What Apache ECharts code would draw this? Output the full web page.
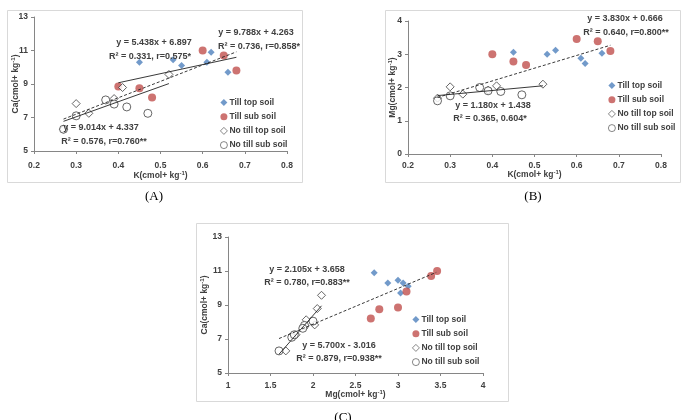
<!DOCTYPE html>
<html>
<head>
<meta charset="utf-8">
<script src="https://cdn.jsdelivr.net/npm/echarts@6/dist/echarts.min.js"></script>
<style>html,body{margin:0;padding:0;background:#fff}#c{width:685px;height:420px}</style>
</head>
<body>
<div id="c"></div>
<script>
// ---- data ----
var seriesNames = ['Till top soil', 'Till sub soil', 'No till top soil', 'No till sub soil'];

var tillTopK  = [0.45, 0.53, 0.55, 0.61, 0.62, 0.66];
var tillTopCa = [10.3, 10.45, 10.1, 10.3, 10.9, 9.7];
var tillTopMg = [3.06, 3.0, 3.12, 2.88, 2.72, 3.03];

var tillSubK  = [0.40, 0.45, 0.48, 0.60, 0.65, 0.68];
var tillSubCa = [8.85, 8.75, 8.2, 11.0, 10.7, 9.8];
var tillSubMg = [3.0, 2.78, 2.68, 3.46, 3.39, 3.1];

var noTillTopK  = [0.27, 0.30, 0.33, 0.39, 0.41, 0.52];
var noTillTopCa = [6.3, 7.83, 7.25, 8.13, 8.79, 9.57];
var noTillTopMg = [1.68, 2.02, 1.8, 1.92, 2.05, 2.1];

var noTillSubK  = [0.27, 0.30, 0.37, 0.39, 0.42, 0.47];
var noTillSubCa = [6.3, 7.1, 8.05, 7.8, 7.63, 7.25];
var noTillSubMg = [1.6, 1.75, 2.0, 1.9, 1.88, 1.78];

// trendlines: [slope, intercept, xStart, xEnd]
var trendA = [[5.438, 6.897, 0.40, 0.68], [9.788, 4.263, 0.27, 0.68], [9.014, 4.337, 0.27, 0.52]];
var trendB = [[3.830, 0.666, 0.27, 0.68], [1.180, 1.438, 0.27, 0.52]];
var trendC = [[2.105, 3.658, 1.60, 3.45], [5.700, -3.016, 1.60, 2.10]];

var eqA = ['y = 5.438x + 6.897', 'R\u00b2 = 0.331, r=0.575*', 'y = 9.788x + 4.263', 'R\u00b2 = 0.736, r=0.858*', 'y = 9.014x + 4.337', 'R\u00b2 = 0.576, r=0.760**'];
var eqB = ['y = 3.830x + 0.666', 'R\u00b2 = 0.640, r=0.800**', 'y = 1.180x + 1.438', 'R\u00b2 = 0.365, 0.604*'];
var eqC = ['y = 2.105x + 3.658', 'R\u00b2 = 0.780, r=0.883**', 'y = 5.700x - 3.016', 'R\u00b2 = 0.879, r=0.938**'];

// ---- chart ----
var FONT = 'Liberation Sans, Arial, sans-serif';
var TXT = '#404040';
var zip = function (a, b) { return a.map(function (v, i) { return [v, b[i]]; }); };

var styles = [
  { symbol: 'diamond', symbolSize: 7, itemStyle: { color: '#4f81bd' } },
  { symbol: 'circle', symbolSize: 8, itemStyle: { color: '#c0504d' } },
  { symbol: 'diamond', symbolSize: 8, itemStyle: { color: '#fff', borderColor: '#404040', borderWidth: 1 } },
  { symbol: 'circle', symbolSize: 8, itemStyle: { color: '#fff', borderColor: '#404040', borderWidth: 1 } }
];

var grids = [
  { left: 34, top: 17, width: 253, height: 134 },
  { left: 408, top: 21, width: 253, height: 133 },
  { left: 228, top: 237, width: 255, height: 136 }
];

var axisCommon = {
  nameMoveOverlap: false,
  axisLine: { show: true, lineStyle: { color: '#868686' } },
  axisTick: { show: true, inside: false, length: 3, lineStyle: { color: '#868686' } },
  splitLine: { show: false },
  axisLabel: { color: TXT, fontFamily: FONT, fontWeight: 'bold', fontSize: 8.5 },
  nameTextStyle: { color: TXT, fontFamily: FONT, fontWeight: 'bold', fontSize: 8.5,
    rich: { s: { fontSize: 6, fontFamily: FONT, fontWeight: 'bold', color: TXT, padding: [0, 0, 5, 0] } } }
};
function ax(extra) { return Object.assign({}, JSON.parse(JSON.stringify(axisCommon)), extra); }
function lbl(m) { return Object.assign({}, axisCommon.axisLabel, { margin: m }); }

var xAxes = [
  ax({ gridIndex: 0, type: 'value', min: 0.2, max: 0.8, interval: 0.1, name: 'K(cmol+ kg{s|-1})', nameLocation: 'middle', nameGap: 19, axisLabel: lbl(10) }),
  ax({ gridIndex: 1, type: 'value', min: 0.2, max: 0.8, interval: 0.1, name: 'K(cmol+ kg{s|-1})', nameLocation: 'middle', nameGap: 15, axisLabel: lbl(7) }),
  ax({ gridIndex: 2, type: 'value', min: 1, max: 4, interval: 0.5, name: 'Mg(cmol+ kg{s|-1})', nameLocation: 'middle', nameGap: 16, axisLabel: lbl(8) })
];
var yAxes = [
  ax({ gridIndex: 0, type: 'value', min: 5, max: 13, interval: 2, name: 'Ca(cmol+ kg{s|-1})', nameLocation: 'middle', nameRotate: 90, nameGap: 13, axisLabel: lbl(6) }),
  ax({ gridIndex: 1, type: 'value', min: 0, max: 4, interval: 1, name: 'Mg(cmol+ kg{s|-1})', nameLocation: 'middle', nameRotate: 90, nameGap: 10, axisLabel: lbl(6) }),
  ax({ gridIndex: 2, type: 'value', min: 5, max: 13, interval: 2, name: 'Ca(cmol+ kg{s|-1})', nameLocation: 'middle', nameRotate: 90, nameGap: 18, axisLabel: lbl(6) })
];

var panelData = [
  [zip(tillTopK, tillTopCa), zip(tillSubK, tillSubCa), zip(noTillTopK, noTillTopCa), zip(noTillSubK, noTillSubCa)],
  [zip(tillTopK, tillTopMg), zip(tillSubK, tillSubMg), zip(noTillTopK, noTillTopMg), zip(noTillSubK, noTillSubMg)],
  [zip(tillTopMg, tillTopCa), zip(tillSubMg, tillSubCa), zip(noTillTopMg, noTillTopCa), zip(noTillSubMg, noTillSubCa)]
];
var trends = [trendA, trendB, trendC];
var dashed = [[false, true, false], [true, false], [true, false]];

var series = [];
panelData.forEach(function (pd, p) {
  pd.forEach(function (d, i) {
    series.push(Object.assign({ type: 'scatter', name: seriesNames[i], xAxisIndex: p, yAxisIndex: p, data: d, z: 2 }, JSON.parse(JSON.stringify(styles[i]))));
  });
  trends[p].forEach(function (t, j) {
    series.push({
      type: 'line', xAxisIndex: p, yAxisIndex: p, showSymbol: false, silent: true, z: 5,
      data: [[t[2], t[0] * t[2] + t[1]], [t[3], t[0] * t[3] + t[1]]],
      lineStyle: { color: '#222', width: 0.9, type: dashed[p][j] ? [3, 2] : 'solid' }
    });
  });
});

var legendBase = {
  orient: 'vertical', padding: 0, itemWidth: 7, itemHeight: 7, itemGap: 5.2, data: seriesNames,
  itemStyle: { borderWidth: 0.8 },
  textStyle: { color: TXT, fontFamily: FONT, fontWeight: 'bold', fontSize: 8.5, padding: [0, 0, 0, -3] }
};
var legends = [
  Object.assign({}, legendBase, { left: 220, top: 98 }),
  Object.assign({}, legendBase, { left: 608, top: 81 }),
  Object.assign({}, legendBase, { left: 412, top: 315 })
];

function txt(s, x, y) {
  return { type: 'text', x: x, y: y, style: { text: s, textAlign: 'center', textVerticalAlign: 'middle', font: 'bold 9px ' + FONT, fill: TXT }, z: 100 };
}
var graphics = [
  { type: 'rect', shape: { x: 7.5, y: 10.5, width: 295, height: 172 }, style: { fill: 'none', stroke: '#d9d9d9', lineWidth: 1 }, z: -1 },
  { type: 'rect', shape: { x: 385.5, y: 10.5, width: 295, height: 172 }, style: { fill: 'none', stroke: '#d9d9d9', lineWidth: 1 }, z: -1 },
  { type: 'rect', shape: { x: 196.5, y: 223.5, width: 312, height: 178 }, style: { fill: 'none', stroke: '#d9d9d9', lineWidth: 1 }, z: -1 },
  txt(eqA[0], 154, 43), txt(eqA[1], 150, 57),
  txt(eqA[2], 256, 33), txt(eqA[3], 259, 47),
  txt(eqA[4], 101, 128), txt(eqA[5], 104, 142),
  txt(eqB[0], 625, 19), txt(eqB[1], 626, 33),
  txt(eqB[2], 493, 106), txt(eqB[3], 490, 119),
  txt(eqC[0], 307, 270), txt(eqC[1], 307, 283),
  txt(eqC[2], 339, 346), txt(eqC[3], 339, 359),
  { type: 'text', x: 154, y: 197, style: { text: '(A)', textAlign: 'center', textVerticalAlign: 'middle', font: '13px Liberation Serif, serif', fill: '#000' } },
  { type: 'text', x: 533, y: 197, style: { text: '(B)', textAlign: 'center', textVerticalAlign: 'middle', font: '13px Liberation Serif, serif', fill: '#000' } },
  { type: 'text', x: 343, y: 418, style: { text: '(C)', textAlign: 'center', textVerticalAlign: 'middle', font: '13px Liberation Serif, serif', fill: '#000' } }
];

var chart = echarts.init(document.getElementById('c'), null, { renderer: 'canvas' });
chart.setOption({
  animation: false,
  backgroundColor: '#fff',
  grid: grids,
  xAxis: xAxes,
  yAxis: yAxes,
  legend: legends,
  series: series,
  graphic: graphics
});
</script>
</body>
</html>
